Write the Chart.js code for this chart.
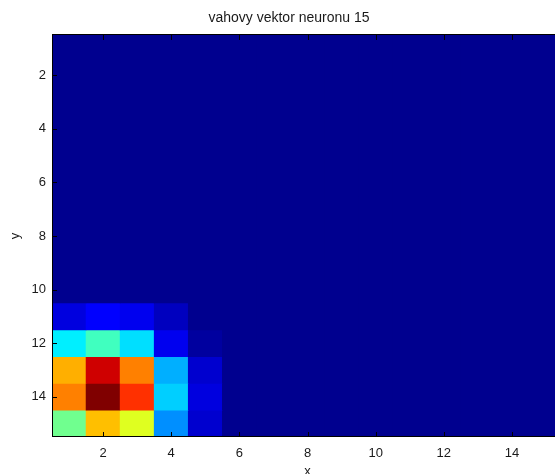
<!DOCTYPE html>
<html>
<head>
<meta charset="utf-8">
<script src="https://cdn.jsdelivr.net/npm/chart.js@4.4.1/dist/chart.umd.min.js"></script>
<style>
  html, body { margin: 0; padding: 0; background: #fff; overflow: hidden; }
  #wrap { width: 578px; height: 474px; }
</style>
</head>
<body>
<div id="wrap"><canvas id="heat" width="578" height="474"></canvas></div>
<script>
// Data: colour index of each cell (jet(64), 1 = lowest), rows y=1..15, columns x=1..15
const columns = [1, 2, 3, 4, 5, 6, 7, 8, 9, 10, 11, 12, 13, 14, 15];
const rowsY = [1, 2, 3, 4, 5, 6, 7, 8, 9, 10, 11, 12, 13, 14, 15];
const weights = [
  [1, 1, 1, 1, 1, 1, 1, 1, 1, 1, 1, 1, 1, 1, 1],
  [1, 1, 1, 1, 1, 1, 1, 1, 1, 1, 1, 1, 1, 1, 1],
  [1, 1, 1, 1, 1, 1, 1, 1, 1, 1, 1, 1, 1, 1, 1],
  [1, 1, 1, 1, 1, 1, 1, 1, 1, 1, 1, 1, 1, 1, 1],
  [1, 1, 1, 1, 1, 1, 1, 1, 1, 1, 1, 1, 1, 1, 1],
  [1, 1, 1, 1, 1, 1, 1, 1, 1, 1, 1, 1, 1, 1, 1],
  [1, 1, 1, 1, 1, 1, 1, 1, 1, 1, 1, 1, 1, 1, 1],
  [1, 1, 1, 1, 1, 1, 1, 1, 1, 1, 1, 1, 1, 1, 1],
  [1, 1, 1, 1, 1, 1, 1, 1, 1, 1, 1, 1, 1, 1, 1],
  [1, 1, 1, 1, 1, 1, 1, 1, 1, 1, 1, 1, 1, 1, 1],
  [6, 8, 7, 4, 1, 1, 1, 1, 1, 1, 1, 1, 1, 1, 1],
  [23, 28, 22, 7, 2, 1, 1, 1, 1, 1, 1, 1, 1, 1, 1],
  [45, 59, 48, 19, 5, 1, 1, 1, 1, 1, 1, 1, 1, 1, 1],
  [48, 64, 53, 21, 6, 1, 1, 1, 1, 1, 1, 1, 1, 1, 1],
  [31, 44, 38, 17, 5, 1, 1, 1, 1, 1, 1, 1, 1, 1, 1],
];
const xTicks = [2, 4, 6, 8, 10, 12, 14];
const yTicks = [2, 4, 6, 8, 10, 12, 14];
const titleText = "vahovy vektor neuronu 15";

// MATLAB jet(64) colour for index k
function jet(k) {
  const u = (j) => {
    if (j >= 1 && j <= 16) return j / 16;
    if (j >= 17 && j <= 31) return 1;
    if (j >= 32 && j <= 47) return (47 - j + 1) / 16;
    return 0;
  };
  const r = k >= 25 ? u(k - 24) : 0;
  const g = k >= 9 ? u(k - 8) : 0;
  const b = u(k + 8);
  return `rgb(${Math.round(r * 255)},${Math.round(g * 255)},${Math.round(b * 255)})`;
}

const family = "'Liberation Sans', Arial, sans-serif";
const font = { family: family, size: 13 };
const ink = "#1a1a1a";

// one dataset per image row, each cell is a floating bar one unit tall
const datasets = rowsY.map((y, r) => ({
  data: columns.map((x) => ({ x: x, y: [y - 0.5, y + 0.5] })),
  backgroundColor: weights[r].map((v) => jet(v)),
  borderWidth: 0,
  grouped: false,
  barPercentage: 1,
  categoryPercentage: 1,
}));

// fill behind cells + box + inward tick marks
const axesBox = {
  id: "axesBox",
  beforeDatasetsDraw(chart) {
    const { ctx, chartArea: a } = chart;
    ctx.save();
    ctx.fillStyle = jet(1);
    ctx.fillRect(a.left, a.top, a.right - a.left, a.bottom - a.top);
    ctx.restore();
  },
  afterDatasetsDraw(chart) {
    const { ctx, chartArea: a, scales } = chart;
    const len = 5;
    ctx.save();
    ctx.strokeStyle = "#000";
    ctx.lineWidth = 1;
    ctx.beginPath();
    xTicks.forEach((v) => {
      const px = Math.round(scales.x.getPixelForValue(v)) + 0.5;
      ctx.moveTo(px, a.bottom);
      ctx.lineTo(px, a.bottom - len);
      ctx.moveTo(px, a.top);
      ctx.lineTo(px, a.top + len);
    });
    yTicks.forEach((v) => {
      const py = Math.round(scales.y.getPixelForValue(v)) + 0.5;
      ctx.moveTo(a.left, py);
      ctx.lineTo(a.left + len, py);
      ctx.moveTo(a.right, py);
      ctx.lineTo(a.right - len, py);
    });
    ctx.stroke();
    ctx.strokeStyle = "#000";
    ctx.strokeRect(Math.round(a.left) + 0.5, Math.round(a.top) - 0.5,
      Math.round(a.right - a.left), Math.round(a.bottom - a.top));
    ctx.restore();
  },
};

new Chart(document.getElementById("heat"), {
  type: "bar",
  data: { datasets: datasets },
  options: {
    responsive: false,
    animation: false,
    events: [],
    layout: { padding: { left: 15, right: 15, top: 0, bottom: 0 } },
    plugins: {
      legend: { display: false },
      tooltip: { enabled: false },
      title: {
        display: true,
        text: titleText,
        color: ink,
        font: { family: family, size: 14, weight: "normal", lineHeight: 1.2 },
        padding: { top: 10, bottom: 8.2 },
      },
    },
    scales: {
      x: {
        type: "linear",
        min: 0.5,
        max: 15.5,
        offset: false,
        grid: { display: false, drawTicks: false, offset: false },
        border: { display: false },
        ticks: { color: ink, font: font, padding: 9, maxRotation: 0 },
        afterBuildTicks: (s) => { s.ticks = xTicks.map((v) => ({ value: v })); },
        afterFit: (s) => { s.height = 37; },
        title: { display: true, text: "x", color: ink, font: font, padding: { top: 0, bottom: -5 } },
      },
      y: {
        type: "linear",
        reverse: true,
        min: 0.5,
        max: 15.5,
        grid: { display: false, drawTicks: false },
        border: { display: false },
        ticks: { color: ink, font: font, padding: 6 },
        afterBuildTicks: (s) => { s.ticks = yTicks.map((v) => ({ value: v })); },
        afterFit: (s) => { s.width = 37; },
        title: { display: true, text: "y", color: ink, font: font, padding: { top: -7, bottom: -7 } },
      },
    },
  },
  plugins: [axesBox],
});
</script>
</body>
</html>
